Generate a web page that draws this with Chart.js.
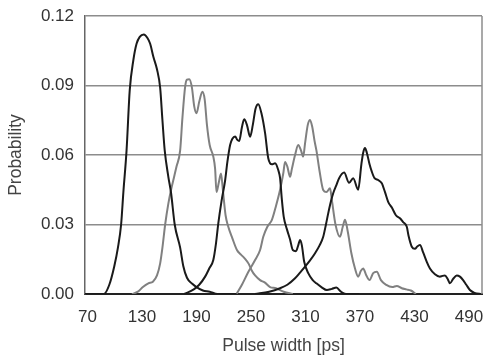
<!DOCTYPE html>
<html>
<head>
<meta charset="utf-8">
<script src="https://cdn.jsdelivr.net/npm/chart.js@4.4.1/dist/chart.umd.min.js"></script>
<style>
  html, body { margin: 0; padding: 0; background: #fff; }
  canvas { display: block; }
</style>
</head>
<body>
<canvas id="pulse_chart" width="487" height="358"></canvas>
<script>
// tick labels
var xTicks = [70, 130, 190, 250, 310, 370, 430, 490];
var yTicks = [0, 0.03, 0.06, 0.09, 0.12];

// curve 1 (black)
var xA = [67, 88, 94, 99.5, 103.5, 107, 109.5, 113, 116.5, 120.5, 124, 127.5, 132, 136, 139, 142.5, 146.5, 150, 152.5, 155, 159, 162, 166, 172, 175.5, 179.5, 185, 190, 197, 204.5, 213, 234];
var yA = [0, 0, 0.004, 0.012, 0.020, 0.030, 0.044, 0.062, 0.088, 0.101, 0.108, 0.111, 0.112, 0.1105, 0.108, 0.1024, 0.097, 0.089, 0.075, 0.062, 0.0506, 0.0436, 0.030, 0.020, 0.012, 0.007, 0.0045, 0.003, 0.0015, 0.001, 0, 0];

// curve 2 (grey)
var xB = [119, 125.5, 131, 137, 142, 146.5, 150, 152.5, 155.5, 159, 162, 165, 168, 172, 174.5, 177.5, 179.5, 182, 185, 187.5, 190, 193, 196.5, 199, 201.5, 204.5, 208.5, 210.5, 212, 214.5, 217, 219, 222, 225, 229.5, 234.5, 239, 243, 247.5, 250.5, 254.5, 260, 265, 271, 277.5, 286, 296];
var yB = [0, 0.001, 0.003, 0.0046, 0.0053, 0.008, 0.0132, 0.020, 0.030, 0.039, 0.045, 0.050, 0.055, 0.062, 0.076, 0.0895, 0.0925, 0.0927, 0.089, 0.081, 0.078, 0.083, 0.0873, 0.084, 0.073, 0.0643, 0.0593, 0.054, 0.044, 0.048, 0.052, 0.045, 0.034, 0.029, 0.024, 0.019, 0.017, 0.0154, 0.013, 0.0104, 0.008, 0.006, 0.005, 0.003, 0.0025, 0.001, 0];

// curve 3 (black)
var xC = [176.5, 187, 193, 199.5, 204, 208.5, 211.5, 214, 217.5, 221.5, 224, 227, 229.5, 232.5, 235, 237, 240, 242.5, 245.5, 249, 252, 255, 258, 261.5, 265.5, 269, 273, 276.5, 280, 282, 284, 286, 289.5, 293, 296, 299.5, 302, 304, 306, 308.5, 313, 318, 322, 327.5, 333.5, 339, 344, 349, 354.5, 369];
var yC = [0, 0.002, 0.004, 0.0075, 0.011, 0.0147, 0.022, 0.0305, 0.040, 0.049, 0.057, 0.0643, 0.067, 0.068, 0.0665, 0.066, 0.072, 0.0754, 0.073, 0.0679, 0.073, 0.080, 0.0819, 0.078, 0.0694, 0.0586, 0.056, 0.0564, 0.0535, 0.050, 0.0406, 0.0334, 0.028, 0.0235, 0.019, 0.0185, 0.021, 0.0233, 0.021, 0.014, 0.009, 0.006, 0.0046, 0.003, 0.0017, 0.0022, 0.0028, 0.001, 0, 0];

// curve 4 (grey)
var xD = [234, 240, 247, 254.5, 260, 263.5, 268, 273, 277.5, 282, 285.5, 287.5, 290, 293, 295, 298.5, 302, 305, 307.5, 309.5, 312.5, 315, 317.5, 320, 322, 325.5, 329.5, 333, 337, 339, 343, 348, 351, 353.5, 356.5, 360.5, 364.5, 368, 371, 373.5, 377, 380.5, 384.5, 388.5, 393, 399, 405.5, 410.5, 416, 421, 426, 431.5];
var yD = [0, 0.004, 0.0095, 0.0147, 0.019, 0.0247, 0.029, 0.032, 0.038, 0.045, 0.052, 0.057, 0.055, 0.0506, 0.054, 0.060, 0.0643, 0.062, 0.0593, 0.065, 0.073, 0.0751, 0.072, 0.066, 0.062, 0.053, 0.0449, 0.044, 0.0456, 0.0406, 0.030, 0.0247, 0.029, 0.032, 0.027, 0.0176, 0.011, 0.0075, 0.010, 0.011, 0.008, 0.006, 0.009, 0.0096, 0.006, 0.0039, 0.003, 0.0035, 0.0025, 0.002, 0.0015, 0];

// curve 5 (black)
var xE = [254.5, 270, 282, 290, 298.5, 303.5, 309.5, 315, 320.5, 325.5, 329.5, 332.5, 335, 338, 340.5, 344, 347, 352.5, 358, 362.5, 368, 371.5, 373.5, 375.5, 377.5, 380.5, 383, 386, 390, 394, 397.5, 401, 405.5, 409.5, 414, 417.5, 421.5, 423.5, 427, 430.5, 433, 436, 439.5, 443.5, 447, 452.5, 458, 460.5, 463.5, 466.5, 469, 472.5, 476.5, 480, 483.5, 487, 491, 496, 504];
var yE = [0, 0.001, 0.0025, 0.004, 0.0068, 0.009, 0.0118, 0.0145, 0.0176, 0.021, 0.0247, 0.030, 0.0348, 0.040, 0.0435, 0.047, 0.050, 0.0524, 0.048, 0.050, 0.045, 0.056, 0.061, 0.063, 0.061, 0.056, 0.0528, 0.050, 0.0492, 0.0478, 0.044, 0.0398, 0.037, 0.034, 0.0327, 0.031, 0.029, 0.025, 0.0204, 0.0195, 0.0205, 0.0211, 0.018, 0.0139, 0.011, 0.0085, 0.0075, 0.0078, 0.008, 0.0065, 0.0046, 0.0065, 0.008, 0.0075, 0.006, 0.004, 0.0017, 0.0005, 0];

var BLACK = '#1a1a1a';
var GREY = '#808080';

function pts(xs, ys) {
    var out = [];
    for (var i = 0; i < xs.length; ++i) {
        out.push({x: xs[i], y: ys[i]});
    }
    return out;
}

function curve(xs, ys, color) {
    return {
        data: pts(xs, ys),
        borderColor: color,
        borderWidth: 2,
        pointRadius: 0,
        fill: false,
        cubicInterpolationMode: 'monotone'
    };
}

// right frame edge of the plot box
var frame = {
    id: 'frame',
    afterDraw: function(chart) {
        var a = chart.chartArea;
        var ctx = chart.ctx;
        ctx.save();
        ctx.strokeStyle = '#8c8c8c';
        ctx.lineWidth = 1.5;
        ctx.beginPath();
        ctx.moveTo(a.right, a.top);
        ctx.lineTo(a.right, a.bottom);
        ctx.stroke();
        ctx.restore();
    }
};

var FONT = "'Liberation Sans', Arial, sans-serif";

var ctx = document.getElementById('pulse_chart').getContext('2d');
var chart = new Chart(ctx, {
    type: 'line',
    data: {
        datasets: [
            curve(xA, yA, BLACK),
            curve(xC, yC, BLACK),
            curve(xE, yE, BLACK),
            curve(xB, yB, GREY),
            curve(xD, yD, GREY)
        ]
    },
    options: {
        responsive: false,
        animation: false,
        devicePixelRatio: 1,
        layout: { padding: { top: 16, right: 5, left: 0, bottom: 0 } },
        plugins: {
            legend: { display: false },
            tooltip: { enabled: false }
        },
        scales: {
            x: {
                type: 'linear',
                min: 67.25,
                max: 504.3,
                afterBuildTicks: function(scale) {
                    scale.ticks = xTicks.map(function(v) { return {value: v}; });
                },
                afterFit: function(scale) {
                    scale.height = 64;
                    scale.paddingLeft = 0;
                    scale.paddingRight = 0;
                },
                grid: { display: false, drawTicks: false },
                border: { display: true, color: '#222', width: 2 },
                ticks: {
                    color: '#333',
                    padding: 13,
                    maxRotation: 0,
                    autoSkip: false,
                    font: { family: FONT, size: 17 },
                    callback: function(v) { return String(v); }
                },
                title: {
                    display: true,
                    text: 'Pulse width [ps]',
                    color: '#444',
                    font: { family: FONT, size: 17.5 },
                    padding: { top: 4, bottom: 1 }
                }
            },
            y: {
                min: 0,
                max: 0.12,
                afterBuildTicks: function(scale) {
                    scale.ticks = yTicks.map(function(v) { return {value: v}; });
                },
                afterFit: function(scale) {
                    scale.width = 85;
                    scale.paddingTop = 0;
                    scale.paddingBottom = 0;
                },
                grid: { color: '#8c8c8c', lineWidth: 1.5, drawTicks: false },
                border: { display: true, color: '#666', width: 1.5 },
                ticks: {
                    color: '#333',
                    padding: 11,
                    font: { family: FONT, size: 17 },
                    callback: function(v) { return v.toFixed(2); }
                },
                title: {
                    display: true,
                    text: 'Probability',
                    color: '#444',
                    font: { family: FONT, size: 17.5 },
                    padding: { top: 6, bottom: 4 }
                }
            }
        }
    },
    plugins: [frame]
});
</script>
</body>
</html>
